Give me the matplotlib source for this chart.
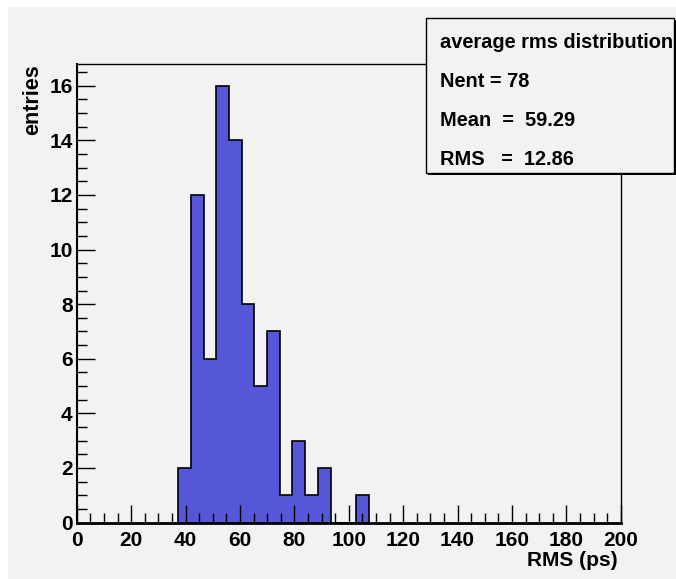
import numpy as np
import matplotlib
matplotlib.use('Agg')
import matplotlib.pyplot as plt
from matplotlib.patches import Rectangle
from matplotlib.ticker import MultipleLocator


# histogram: 30 bins of width 14/3 between 0 and 140, only the filled ones listed
bin_width = 14.0 / 3.0
bin_index = [8, 9, 10, 11, 12, 13, 14, 15, 16, 17, 18, 19, 20, 21, 22]
counts = [2, 12, 6, 16, 14, 8, 5, 7, 1, 3, 1, 2, 0, 0, 1]

x_ticks = [0, 20, 40, 60, 80, 100, 120, 140, 160, 180, 200]
y_ticks = [0, 2, 4, 6, 8, 10, 12, 14, 16]

stats_lines = ['average rms distribution', 'Nent = 78', 'Mean  =  59.29', 'RMS   =  12.86']

bg = '#f2f2f2'
fill = '#5656d9'

plt.rcParams['font.family'] = ['Liberation Sans', 'DejaVu Sans']
plt.rcParams['font.weight'] = 'bold'

W, H = 676, 579
fig = plt.figure(figsize=(W / 100, H / 100), dpi=100)
fig.patch.set_facecolor('white')
fig.add_artist(Rectangle((8 / W, 0), 1, 1 - 7 / H, transform=fig.transFigure,
                         facecolor=bg, edgecolor='none', zorder=-10))

ax_l, ax_r, ax_t, ax_b = 76.7, 620.7, 64, 522.5
ax = fig.add_axes([ax_l / W, 1 - ax_b / H, (ax_r - ax_l) / W, (ax_b - ax_t) / H])
ax.set_facecolor(bg)

edges = np.array(bin_index + [bin_index[-1] + 1]) * bin_width
ax.stairs(counts, edges, fill=True, facecolor=fill, edgecolor='none')
ax.stairs(counts, edges, fill=False, edgecolor='black', linewidth=1.2)

ax.set_xlim(0, 200)
ax.set_ylim(0, 16.8)
ax.xaxis.set_major_locator(MultipleLocator(20))
ax.xaxis.set_minor_locator(MultipleLocator(5))
ax.yaxis.set_major_locator(MultipleLocator(2))
ax.yaxis.set_minor_locator(MultipleLocator(0.5))
ax.tick_params(which='both', direction='in', top=False, right=False, color='black')
ax.tick_params(which='major', length=13, width=1, labelsize=15)
ax.tick_params(axis='x', which='major', pad=6)
ax.tick_params(axis='y', which='major', pad=3)
ax.tick_params(which='minor', length=7, width=1)
ax.set_xticks(x_ticks)
ax.set_yticks(y_ticks)
for lab in ax.get_xticklabels() + ax.get_yticklabels():
    lab.set_fontweight('bold')

for s in ax.spines.values():
    s.set_linewidth(1)
ax.spines['bottom'].set_linewidth(2)
ax.spines['left'].set_linewidth(1.5)

ax.set_xlabel('RMS (ps)', fontsize=15, fontweight='bold', loc='right')
ax.xaxis.set_label_coords((618 - ax_l) / (ax_r - ax_l), -(560 - ax_b) / (ax_b - ax_t))
ax.xaxis.label.set_va('center')
ax.set_ylabel('entries', fontsize=15.5, fontweight='bold', loc='top')
ax.yaxis.set_label_coords((43 - ax_l) / (ax_r - ax_l), 1.0)

# stats box
bx0, by0, bx1, by1 = 426 / W, 1 - 173 / H, 674 / W, 1 - 18 / H
fig.add_artist(Rectangle((bx0 + 2 / W, by0 - 2 / H), bx1 - bx0, by1 - by0,
                         transform=fig.transFigure, facecolor='black', edgecolor='none', zorder=5))
fig.add_artist(Rectangle((bx0, by0), bx1 - bx0, by1 - by0, transform=fig.transFigure,
                         facecolor=bg, edgecolor='black', linewidth=1, zorder=6))
for i, line in enumerate(stats_lines):
    fig.text(439.5 / W, 1 - (48 + i * 39) / H, line, fontsize=14.4, fontweight='bold',
             va='baseline', ha='left', zorder=7)

fig.savefig('out.png', dpi=100, facecolor=fig.get_facecolor())
